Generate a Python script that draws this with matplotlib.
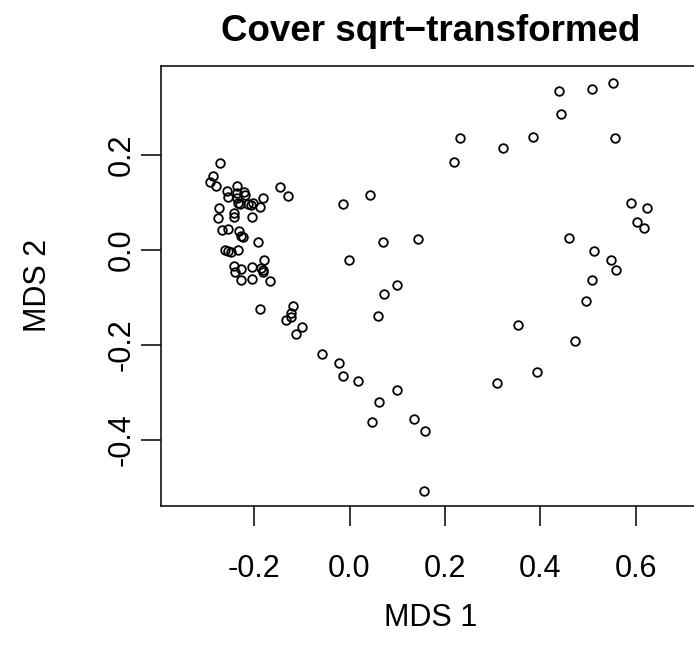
####################################################

# Load modules

import numpy as np
import matplotlib
matplotlib.use("Agg")
from matplotlib import pyplot as plt

####################################################

# MDS coordinates

mds1 = [
    # dense cluster on the left
    -0.271, -0.287, -0.292, -0.279, -0.257, -0.255, -0.237, -0.237, -0.235, -0.234,
    -0.221, -0.220, -0.230, -0.212, -0.203, -0.207, -0.187, -0.181, -0.273, -0.276,
    -0.243, -0.242, -0.204, -0.268, -0.254, -0.232, -0.227, -0.224, -0.193, -0.262,
    -0.254, -0.249, -0.234, -0.180, -0.242, -0.240, -0.227, -0.204, -0.186, -0.181,
    -0.181, -0.228, -0.204, -0.166,
    # left middle
    -0.145, -0.129, -0.118, -0.122, -0.123, -0.134, -0.099, -0.113, -0.188,
    # the rest
    0.440, 0.509, 0.552, 0.443, 0.231, 0.384, 0.557, 0.322, 0.218, 0.043,
    -0.013, 0.590, 0.624, 0.602, 0.618, 0.071, 0.143, 0.461, -0.001, 0.512,
    0.548, 0.558, 0.100, 0.073, 0.509, 0.495, 0.059, 0.354, 0.473, -0.057,
    -0.022, -0.014, 0.017, 0.100, 0.393, 0.309, 0.062, 0.047, 0.135, 0.158,
    0.157,
]
mds2 = [
    0.183, 0.156, 0.143, 0.134, 0.125, 0.112, 0.135, 0.119, 0.109, 0.100,
    0.123, 0.116, 0.097, 0.096, 0.098, 0.094, 0.091, 0.110, 0.089, 0.067,
    0.078, 0.069, 0.070, 0.042, 0.045, 0.039, 0.029, 0.028, 0.016, 0.001,
    -0.002, -0.004, 0.000, -0.021, -0.034, -0.047, -0.041, -0.036, -0.037, -0.043,
    -0.046, -0.063, -0.061, -0.065,
    0.132, 0.113, -0.118, -0.133, -0.140, -0.148, -0.163, -0.177, -0.124,
    0.334, 0.338, 0.352, 0.286, 0.235, 0.238, 0.235, 0.215, 0.185, 0.116,
    0.096, 0.098, 0.088, 0.058, 0.046, 0.017, 0.024, 0.025, -0.021, -0.002,
    -0.020, -0.043, -0.074, -0.093, -0.063, -0.107, -0.138, -0.158, -0.191, -0.218,
    -0.237, -0.265, -0.275, -0.295, -0.256, -0.279, -0.320, -0.363, -0.355, -0.381,
    -0.507,
]

xticks = [-0.2, 0.0, 0.2, 0.4, 0.6]
yticks = [-0.4, -0.2, 0.0, 0.2]

####################################################

plt.rcParams['font.family'] = ['Liberation Sans', 'DejaVu Sans']

fig = plt.figure(figsize=(6.94, 6.58), dpi=100)
# plot box runs a bit past the right edge of the image (asp = 1 in R)
ax = fig.add_axes([160.7 / 694, 1 - 505.7 / 658, (701 - 160.7) / 694, (505.7 - 66) / 658])

ax.plot(mds1, mds2, linestyle="none", marker="o", markersize=6.2,
        markerfacecolor="none", markeredgecolor="black", markeredgewidth=1.3)

ax.set_xlim(-0.396, 0.737)
ax.set_ylim(-0.5383, 0.3874)

ax.set_xticks(xticks)
ax.set_xticklabels(["%.1f" % v for v in xticks])
ax.set_yticks(yticks)
ax.set_yticklabels(["%.1f" % v for v in yticks], rotation=90, va="center")

ax.tick_params(axis="both", direction="out", length=14.4, width=1.1,
               labelsize=22, colors="black")
ax.tick_params(axis="x", pad=20.5)
ax.tick_params(axis="y", pad=3)

for side in ["top", "right", "bottom", "left"]:
    ax.spines[side].set_linewidth(1.1)

ax.set_xlabel("MDS 1", fontsize=22)
ax.set_ylabel("MDS 2", fontsize=22)
ax.xaxis.set_label_coords(0.5, -0.2555)
ax.yaxis.set_label_coords(-0.2270, 0.502)
ax.xaxis.label.set_va("center")
ax.yaxis.label.set_va("center")

ax.set_title("Cover sqrt\u2212transformed", fontsize=26.5, fontweight="bold",
             y=1.0569, va="baseline", pad=0)

fig.savefig("out.png", dpi=100)
